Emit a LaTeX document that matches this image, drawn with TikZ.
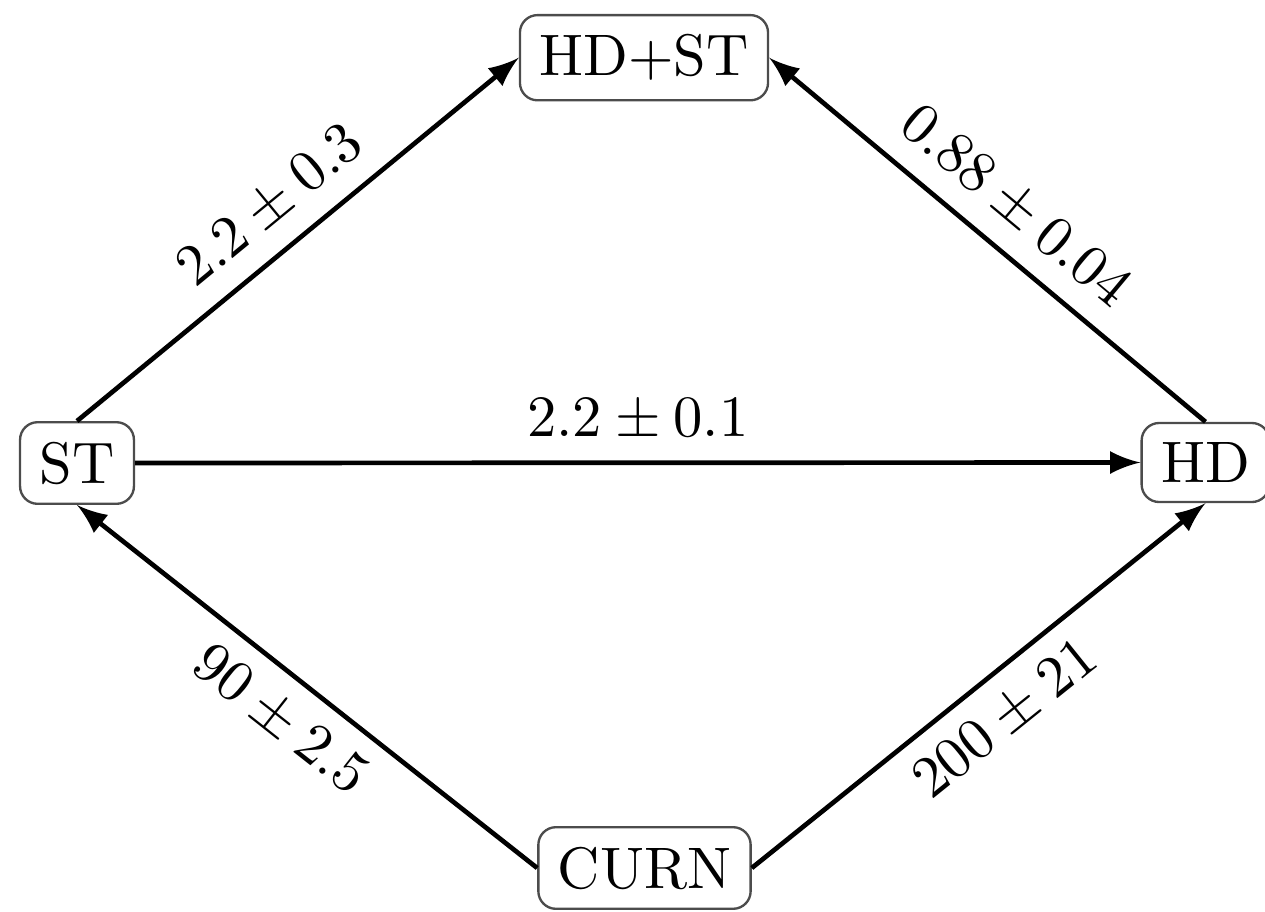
\documentclass[tikz,border=0pt]{standalone}
\usetikzlibrary{arrows}
\begin{document}
\begin{tikzpicture}[x=0.17074pt,y=-0.17074pt,
  state/.style={draw=black!70,rounded corners=3pt,inner sep=0.3333em},
  flow/.style={-latex,thick},
  lbl/.style={sloped,font=\normalsize}]
\useasboundingbox (0,0) rectangle (1265,912);
\node[state] (st)   at (77,463)    {ST};
\node[state] (hd)   at (1205.5,462.5) {HD};
\node[state] (hdst) at (644,57.7)  {HD+ST};
\node[state] (curn) at (644.5,868) {CURN};
\draw[flow] (st.north) -- node[lbl,above] {$2.2\pm0.3$} (hdst.west);
\draw[flow] (hd.north) -- node[lbl,above] {$0.88\pm0.04$} (hdst.east);
\draw[flow] (st.east) -- node[above] {$2.2\pm0.1$} (hd.west);
\draw[flow] (curn.west) -- node[lbl,below] {$90\pm2.5$} (st.south);
\draw[flow] (curn.east) -- node[lbl,below] {$200\pm21$} (hd.south);
\end{tikzpicture}
\end{document}
